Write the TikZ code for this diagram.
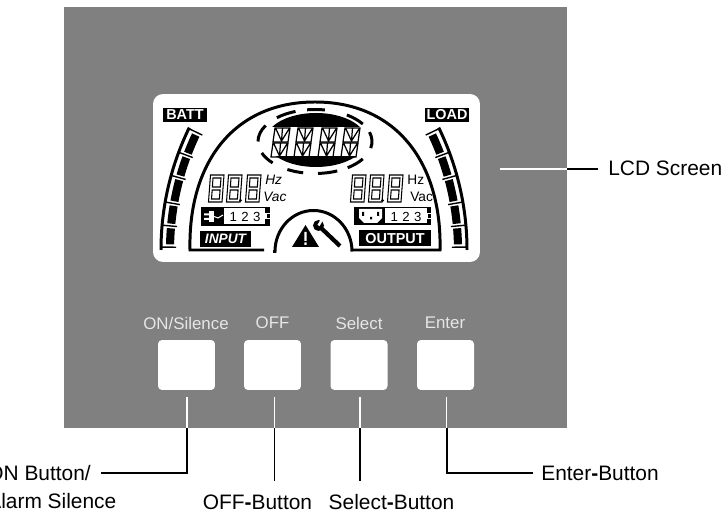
\documentclass[tikz,border=0pt]{standalone}
\usepackage{fontspec}
\setmainfont{Liberation Sans}
\usepackage{tikz}
\usetikzlibrary{calc}

\definecolor{panelgray}{HTML}{808080}
\definecolor{keytext}{HTML}{E6E6E6}

\tikzset{
    keybox/.style={fill=white, rounded corners=0.08cm, minimum width=1.14cm, minimum height=1cm, inner sep=0pt},
    keylabel/.style={text=keytext, font=\fontsize{9.6}{11}\selectfont, inner sep=0pt},
    calllabel/.style={font=\fontsize{11.9}{15.4}\selectfont, inner sep=0pt},
    leadin/.style={white, line width=0.8pt},
    leadout/.style={black, line width=1.1pt},
    lcdline/.style={black, line width=1.7pt},
    segline/.style={black, line width=0.6pt},
    blacktag/.style={fill=black, text=white, inner sep=0pt, font=\fontsize{8.2}{9}\selectfont\bfseries},
    lcdtext/.style={inner sep=0pt, font=\fontsize{7.8}{9}\selectfont}
}

% one outlined digit of the small readouts
\newcommand{\sevenseg}[2]{
    \draw[segline, shift={(#1,#2)}] (2.5,0) -- (16,0) -- (14,27) -- (0.5,27) -- cycle
        (5,3) -- (13,3) -- (12.3,12) -- (4.4,12) -- cycle
        (4.2,15) -- (12.1,15) -- (11.4,24) -- (3.5,24) -- cycle;
}
% one starburst character of the centre readout
\newcommand{\starseg}[2]{
    \draw[black, line width=0.7pt, shift={(#1,#2)}] (2,0) -- (17,0) -- (15,14) -- (0,14) -- cycle
        (3,1) -- (8.5,13) (9.5,0) -- (8.5,13) (16,1) -- (8.5,13);
}
% the five-cell bar graph, drawn for the left side
\newcommand{\barcells}{
    \draw[lcdline] (440,250) ++(180:279) arc[start angle=180, end angle=206, radius=279];
    \foreach \a/\b in {1.2/4.6, 5.6/9.4, 10.4/15, 16/20, 21/25.2}{
        \draw[black, line width=4.6pt] (440,250) ++(180+\a:270) arc[start angle=180+\a, end angle=180+\b, radius=270];
    }
    \foreach \a in {0.6, 5.1, 9.9, 15.5, 20.5, 25.8}{
        \draw[black, line width=0.8pt] (440,250) ++(180+\a:280) -- ($(440,250)+(180+\a:264)$);
    }
}

\begin{document}
\begin{tikzpicture}[x=0.02cm, y=-0.02cm]
    \useasboundingbox (0,0) rectangle (723,519);

    % Panel and screen
    \node[fill=panelgray, minimum width=10.06cm, minimum height=8.41cm, inner sep=0pt] (panel) at (315.5,217.5) {};
    \node[fill=white, rounded corners=0.2cm, minimum width=6.54cm, minimum height=3.36cm, inner sep=0pt] (lcd) at (316.5,178) {};

    % Bar graphs
    \barcells
    \begin{scope}[shift={(628,0)}, xscale=-1]
        \barcells
    \end{scope}
    \node[blacktag, minimum width=0.88cm, minimum height=0.28cm] (batt) at (185,115) {BATT};
    \node[blacktag, minimum width=0.88cm, minimum height=0.28cm] (load) at (447,115) {LOAD};

    % Large arch and small arch
    \draw[lcdline] (264,250) -- (190,250) .. controls (188,165) and (232,102) .. (315,102)
        .. controls (398,102) and (442,165) .. (440,250) -- (352,250);
    \draw[lcdline] (273,251.5) -- (275,251.5) arc[start angle=180, end angle=360, x radius=38.5, y radius=41];

    % Centre readout: caps, ring and characters
    \begin{scope}
        \clip (260,105) rectangle (372,127);
        \fill[black] (316,140) ellipse (50 and 27);
    \end{scope}
    \begin{scope}
        \clip (260,157) rectangle (372,175);
        \fill[black] (316,140) ellipse (50 and 27);
    \end{scope}
    \foreach \a/\b in {228/250, 262/280, 304/327, 343/372, 393/415, 427/447, 462/479, 498/519, 540/570}{
        \draw[lcdline] (315,141.5) ++(\a:57 and 32) arc[start angle=\a, end angle=\b, x radius=57, y radius=32];
    }
    \foreach \x in {273,296,320,343}{
        \starseg{\x}{128}
        \starseg{\x-2}{143}
    }

    % Left readout
    \foreach \x in {208,226,245}{
        \sevenseg{\x}{175}
    }
    \fill[black] (240.5,200.5) circle (1.5);
    \node[lcdtext, anchor=west, font=\fontsize{7.8}{9}\selectfont\itshape] (hzleft) at (265,180) {Hz};
    \node[lcdtext, anchor=west, font=\fontsize{7.8}{9}\selectfont\itshape] (vacleft) at (263,197) {Vac};

    % Right readout
    \foreach \x in {350,368,387}{
        \sevenseg{\x}{175}
    }
    \fill[black] (382.5,200.5) circle (1.5);
    \node[lcdtext, anchor=west] (hzright) at (407,180) {Hz};
    \node[lcdtext, anchor=west] (vacright) at (410,197) {Vac};

    % Input row
    \fill[black] (201,207) rectangle (270,226);
    \fill[white] (224,208.5) rectangle (265,224.5);
    \fill[white] (265,213) rectangle (270,219);
    \fill[black] (267,214) rectangle (270,218);
    \fill[white] (209,211) rectangle (214,222);
    \fill[white] (204,213.5) rectangle (209,215.5) (204,218) rectangle (209,220);
    \draw[white, line width=0.6pt] (214,216.5) -- (218,218) -- (223,215);
    \node[lcdtext, font=\fontsize{7.5}{9}\selectfont] (inputnums) at (245,217) {1\,\,2\,\,3};
    \node[blacktag, font=\fontsize{7.8}{9}\selectfont\bfseries\itshape, minimum width=1.02cm, minimum height=0.32cm] (inputtag) at (225.5,239) {INPUT\hspace{3pt}};

    % Output row
    \fill[black] (354,207) rectangle (431,225);
    \fill[white] (385,208.5) rectangle (427,223.5);
    \fill[white] (427,213) rectangle (431,219);
    \fill[black] (428,214) rectangle (431,218);
    \fill[white] (359,209) -- (382,209) -- (382,218) -- (377,223) -- (364,223) -- (359,218) -- cycle;
    \fill[black] (362,212) rectangle (364,216) (377,212) rectangle (379,216) (370,217) rectangle (372,219.5);
    \node[lcdtext, font=\fontsize{7.5}{9}\selectfont] (outputnums) at (406,217) {1\,\,2\,\,3};
    \node[blacktag, minimum width=1.44cm, minimum height=0.32cm] (outputtag) at (395,238.5) {OUTPUT\hspace{4pt}};

    % Warning sign and wrench
    \fill[black] (305.5,225) -- (319,247) -- (292,247) -- cycle;
    \fill[white] (304.3,232) rectangle (306.7,241) (304.3,242.5) rectangle (306.7,245);
    \draw[black, line width=2.4pt] (340,246) -- (320,227);
    \fill[black] (318.5,225.5) circle (5.5);
    \draw[white, line width=1.4pt] (318.5,225.5) -- (323,218);

    % Front keys
    \node[keybox] (onbtn) at (186.5,365) {};
    \node[keybox] (offbtn) at (272.5,365) {};
    \node[keybox] (selbtn) at (359,365) {};
    \node[keybox] (entbtn) at (445.5,365) {};
    \node[keylabel] (onkey) at (186,323) {ON/Silence};
    \node[keylabel] (offkey) at (272.5,323) {OFF};
    \node[keylabel] (selkey) at (359,323) {Select};
    \node[keylabel] (entkey) at (445,323) {Enter};

    % Callout labels
    \node[calllabel, anchor=west] (lcdlbl) at (608,168.5) {LCD Screen};
    \node[calllabel, anchor=west, align=left] (onlbl) at (-13,487) {ON Button/\\Alarm Silence};
    \node[calllabel] (offlbl) at (257.5,502) {OFF{\bfseries -}Button};
    \node[calllabel] (sellbl) at (391.5,502) {Select{\bfseries -}Button};
    \node[calllabel, anchor=west] (entlbl) at (541,473) {Enter{\bfseries -}Button};

    % Leaders, white on the panel and black off it
    \coordinate (onend) at (101,473);
    \coordinate (offend) at (274.5,481);
    \coordinate (selend) at (360,481);
    \coordinate (entend) at (533,473);
    \coordinate (lcdend) at (598,169);
    \coordinate (onx) at (187,428);
    \coordinate (entx) at (446.7,428);

    \draw[leadin, shorten <=4pt] (onbtn.south -| onx) -- (onx);
    \draw[leadout] (onx) |- (onend);
    \draw[leadin, shorten <=4pt] (offbtn.south -| offend) -- (panel.south -| offend);
    \draw[leadout] (panel.south -| offend) -- (offend);
    \draw[leadin, shorten <=4pt] (selbtn.south -| selend) -- (panel.south -| selend);
    \draw[leadout] (panel.south -| selend) -- (selend);
    \draw[leadin, shorten <=4pt] (entbtn.south -| entx) -- (entx);
    \draw[leadout] (entx) |- (entend);
    \draw[leadin, shorten <=11.4pt] (lcd.east |- lcdend) -- (panel.east |- lcdend);
    \draw[leadout] (panel.east |- lcdend) -- (lcdend);
\end{tikzpicture}
\end{document}
